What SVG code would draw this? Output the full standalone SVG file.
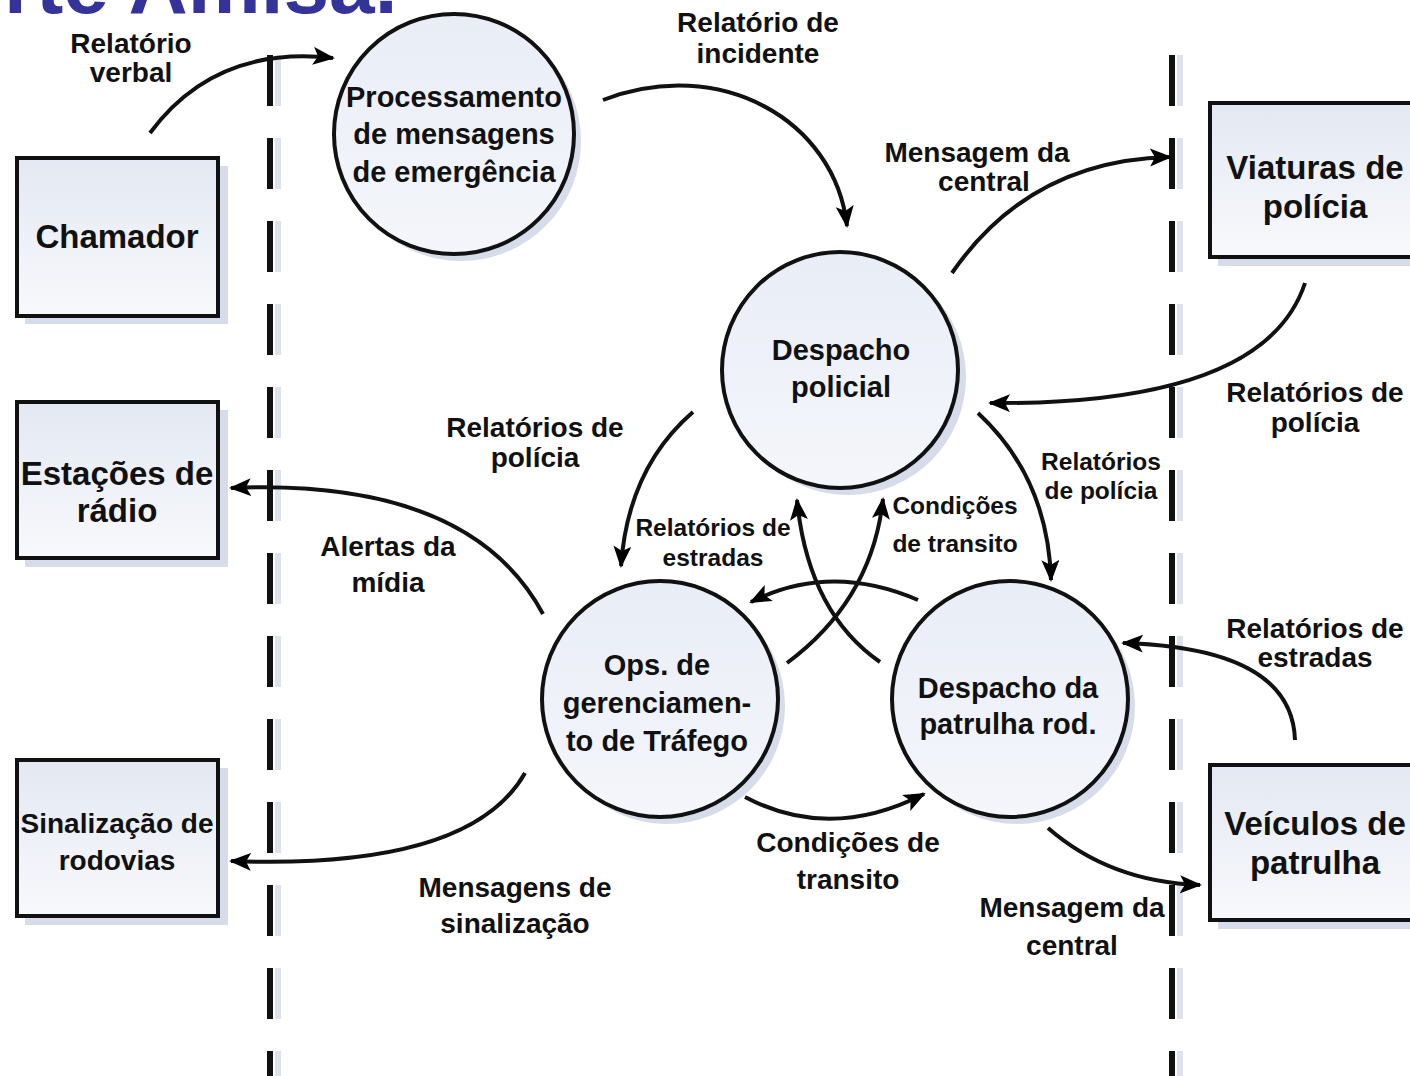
<svg xmlns="http://www.w3.org/2000/svg" width="1410" height="1076" viewBox="0 0 1410 1076">
<defs>
<linearGradient id="gBox" x1="0" y1="0" x2="0" y2="1"><stop offset="0" stop-color="#e3e8f2"/><stop offset="1" stop-color="#f8f9fc"/></linearGradient>
<linearGradient id="gCir" x1="0" y1="0" x2="0" y2="1"><stop offset="0" stop-color="#e9edf6"/><stop offset="1" stop-color="#f4f6fb"/></linearGradient>
<marker id="ah" markerUnits="userSpaceOnUse" markerWidth="24" markerHeight="20" refX="20" refY="9" orient="auto"><path d="M0,0 L22,9 L0,18 L5,9 Z" fill="#000"/></marker>
<style>
.box{fill:url(#gBox);stroke:#111;stroke-width:4}
.cir{fill:url(#gCir);stroke:#111;stroke-width:4}
.sh{fill:#d6dcea}
.dash{stroke:#111;stroke-width:6;stroke-dasharray:51 32;fill:none}
.dsh{stroke:#dde2ee;stroke-width:6;stroke-dasharray:51 32;fill:none}
.con{fill:none;stroke:#111;stroke-width:4;marker-end:url(#ah)}
text{font-family:"Liberation Sans",Arial,sans-serif;font-weight:bold;fill:#111;text-anchor:middle}
.nt{font-size:29px}
.bt{font-size:33px}
.lb{font-size:28px}
.sm{font-size:24.5px}
.title{font-size:82px;fill:#333399;text-anchor:start}
</style>
</defs>
<rect width="1410" height="1076" fill="#fff"/>
<text class="title" x="4" y="13">rte Amisa.</text>

<g id="boundaries">
<line class="dsh" x1="278" y1="55" x2="278" y2="1076"/>
<line class="dsh" x1="1180" y1="55" x2="1180" y2="1076"/>
<line class="dash" x1="270" y1="55" x2="270" y2="1076"/>
<line class="dash" x1="1172" y1="55" x2="1172" y2="1076"/>
</g>

<g id="chamador"><rect class="sh" x="25" y="166" width="203" height="158"/><rect class="box" x="17" y="158" width="201" height="158"/><text class="bt" x="117" y="248">Chamador</text></g>
<g id="estacoes"><rect class="sh" x="25" y="410" width="203" height="157"/><rect class="box" x="17" y="402" width="201" height="156"/><text class="bt" x="117" y="485">Estações de</text><text class="bt" x="117" y="522">rádio</text></g>
<g id="sinalizacao"><rect class="sh" x="25" y="768" width="203" height="157"/><rect class="box" x="17" y="760" width="201" height="156"/><text class="nt" x="117" y="833" style="font-size:28px">Sinalização de</text><text class="nt" x="117" y="870" style="font-size:28px">rodovias</text></g>
<g id="viaturas"><rect class="sh" x="1218" y="111" width="200" height="155"/><rect class="box" x="1210" y="103" width="210" height="154"/><text class="bt" x="1315" y="179">Viaturas de</text><text class="bt" x="1315" y="218">polícia</text></g>
<g id="veiculos"><rect class="sh" x="1218" y="773" width="200" height="156"/><rect class="box" x="1210" y="765" width="210" height="155"/><text class="bt" x="1315" y="835">Veículos de</text><text class="bt" x="1315" y="874">patrulha</text></g>

<g id="processamento"><circle class="sh" cx="461" cy="141" r="120"/><circle class="cir" cx="454" cy="134" r="120"/><text class="nt" x="454" y="107">Processamento</text><text class="nt" x="454" y="144">de mensagens</text><text class="nt" x="454" y="182">de emergência</text></g>
<g id="despacho_policial"><circle class="sh" cx="848" cy="377" r="118"/><circle class="cir" cx="840" cy="370" r="118"/><text class="nt" x="841" y="360">Despacho</text><text class="nt" x="841" y="397">policial</text></g>
<g id="ops_trafego"><circle class="sh" cx="667" cy="706" r="118"/><circle class="cir" cx="660" cy="699" r="118"/><text class="nt" x="657" y="675">Ops. de</text><text class="nt" x="657" y="713">gerenciamen-</text><text class="nt" x="657" y="751">to de Tráfego</text></g>
<g id="despacho_patrulha"><circle class="sh" cx="1017" cy="706" r="118"/><circle class="cir" cx="1010" cy="699" r="118"/><text class="nt" x="1008" y="698">Despacho da</text><text class="nt" x="1008" y="734">patrulha rod.</text></g>

<g id="connectors">
<path class="con" d="M150,133 Q215,45 333,58"/>
<path class="con" d="M603,100 C720,55 835,120 847,226"/>
<path class="con" d="M952,273 Q1030,160 1170,157"/>
<path class="con" d="M1305,283 Q1265,405 990,403"/>
<path class="con" d="M693,412 Q628,468 621,566"/>
<path class="con" d="M978,413 Q1048,478 1051,580"/>
<path class="con" d="M543,614 Q470,478 231,488"/>
<path class="con" d="M525,773 Q470,870 231,861"/>
<path class="con" d="M880,662 Q808,612 797,500"/>
<path class="con" d="M787,663 Q872,600 883,499"/>
<path class="con" d="M918,600 Q830,562 751,602"/>
<path class="con" d="M745,797 Q830,842 924,794"/>
<path class="con" d="M1048,828 Q1110,882 1200,885"/>
<path class="con" d="M1295,740 Q1292,648 1123,643"/>
</g>

<g id="labels">
<text class="lb" x="131" y="53">Relatório</text><text class="lb" x="131" y="82">verbal</text>
<text class="lb" x="758" y="32">Relatório de</text><text class="lb" x="758" y="63">incidente</text>
<text class="lb" x="977" y="162">Mensagem da</text><text class="lb" x="984" y="191">central</text>
<text class="lb" x="1315" y="402">Relatórios de</text><text class="lb" x="1315" y="432">polícia</text>
<text class="lb" x="535" y="437">Relatórios de</text><text class="lb" x="535" y="467">polícia</text>
<text class="sm" x="1101" y="470">Relatórios</text><text class="sm" x="1101" y="499">de polícia</text>
<text class="sm" x="713" y="536">Relatórios de</text><text class="sm" x="713" y="566">estradas</text>
<text class="sm" x="955" y="514">Condições</text><text class="sm" x="955" y="552">de transito</text>
<text class="lb" x="388" y="556">Alertas da</text><text class="lb" x="388" y="592">mídia</text>
<text class="lb" x="1315" y="638">Relatórios de</text><text class="lb" x="1315" y="667">estradas</text>
<text class="lb" x="848" y="852">Condições de</text><text class="lb" x="848" y="889">transito</text>
<text class="lb" x="1072" y="917">Mensagem da</text><text class="lb" x="1072" y="955">central</text>
<text class="lb" x="515" y="897">Mensagens de</text><text class="lb" x="515" y="933">sinalização</text>
</g>
</svg>
